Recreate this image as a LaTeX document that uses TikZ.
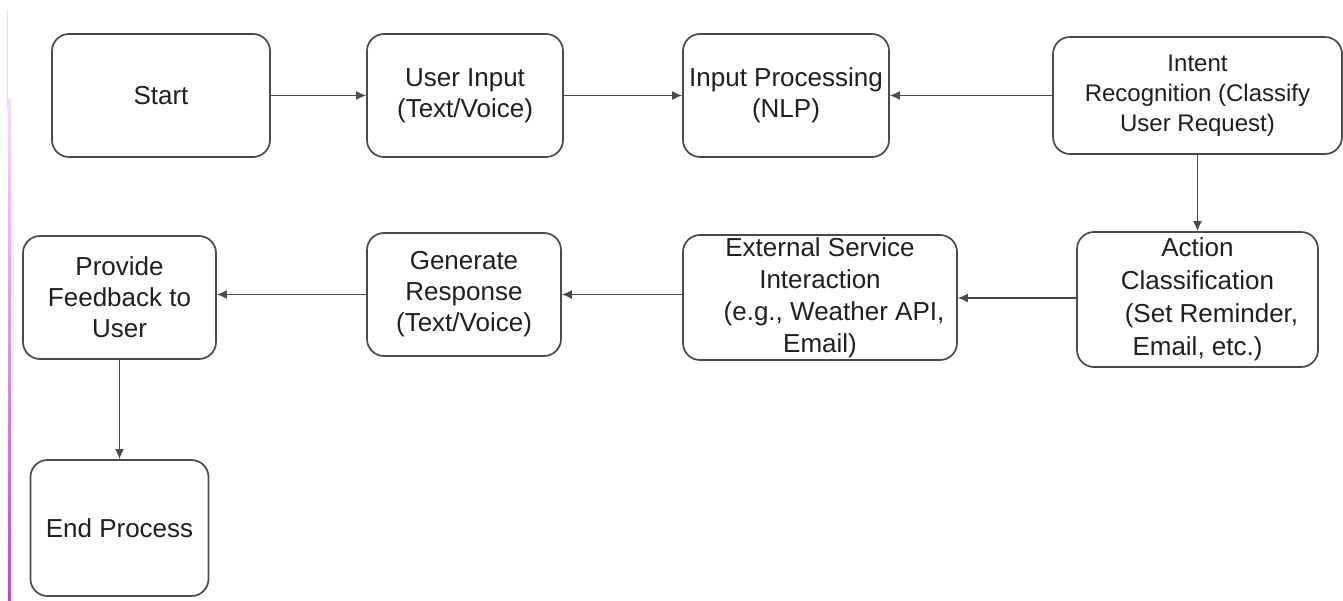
\documentclass[tikz,border=0pt]{standalone}
\usepackage{fontspec}
\setmainfont{Liberation Sans}
\usetikzlibrary{arrows.meta,calc}
\definecolor{edge}{HTML}{4A4A4A}
\definecolor{barpink}{HTML}{F6DDF6}
\definecolor{barpurple}{HTML}{B050CC}
\tikzset{
  box/.style={draw=edge, line width=1.7pt, rounded corners=17pt, fill=white,
    align=center, inner sep=0pt, font=\fontsize{26}{31}\selectfont, text=black!88},
  arr/.style={draw=edge, line width=1.5pt, -{Latex[length=10pt,width=9pt]}},
}
\begin{document}
\begin{tikzpicture}[x=1pt,y=-1pt]
\useasboundingbox (0,0) rectangle (1343,601);
\fill[white] (0,0) rectangle (1343,601);
% left decorative bar
\draw[black!12, line width=0.8pt] (7,10) -- (7,110);
\shade[top color=barpink, bottom color=barpurple] (8,100) rectangle (11,601);
\fill[barpink!50] (11,200) rectangle (14,601);
% nodes
\node[box, minimum width=218pt, minimum height=123pt] (start) at (161,95.5) {Start};
\node[box, minimum width=196pt, minimum height=123pt] (uin) at (465,95.5) {User Input\\(Text/Voice)};
\node[box, minimum width=206pt, minimum height=123pt] (proc) at (786,95.5) {Input Processing\\(NLP)};
\node[box, minimum width=289pt, minimum height=117pt, font=\fontsize{24}{30}\selectfont] (intent) at (1197.5,95.5) {Intent\\Recognition (Classify\\User Request)};
\node[box, minimum width=241pt, minimum height=135pt, font=\fontsize{26}{33}\selectfont] (act) at (1197.5,299.5) {Action\\Classification\\\hspace*{28pt}(Set Reminder,\\Email, etc.)};
\node[box, minimum width=274pt, minimum height=125pt, font=\fontsize{26}{32}\selectfont] (ext) at (820,297.5) {External Service\\Interaction\\\hspace*{28pt}(e.g., Weather API,\\Email)};
\node[box, minimum width=194pt, minimum height=123pt] (gen) at (464,294.5) {Generate\\Response\\(Text/Voice)};
\node[box, minimum width=193pt, minimum height=123pt] (prov) at (119.5,297.5) {Provide\\Feedback to\\User};
\node[box, minimum width=178pt, minimum height=136pt] (end) at (119.5,528) {End Process};
% connectors
\draw[arr] (start.east) -- (uin.west);
\draw[arr] (uin.east) -- (proc.west);
\draw[arr] (intent.west) -- (proc.east);
\draw[arr] (intent.south) -- (act.north);
\draw[arr] ($(act.west)+(0,-1.5)$) -- (ext.east |- {$(act.west)+(0,-1.5)$});
\draw[arr] (ext.west |- gen.east) -- (gen.east);
\draw[arr] (gen.west) -- (gen.west -| prov.east);
\draw[arr] (prov.south) -- (end.north);
\end{tikzpicture}
\end{document}
